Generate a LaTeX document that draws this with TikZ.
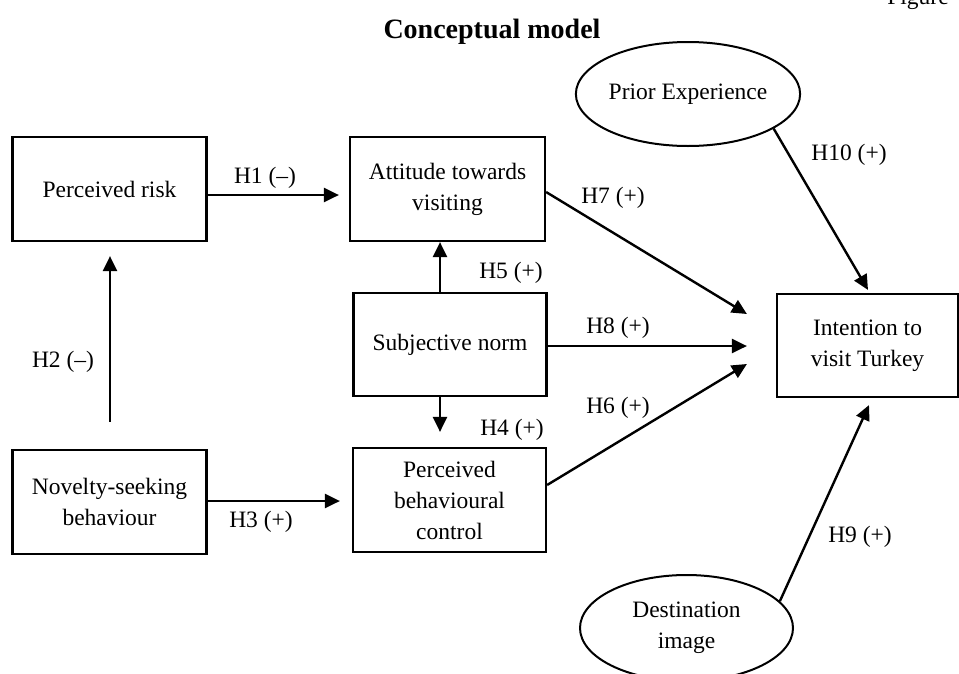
\documentclass[tikz,border=0pt]{standalone}
\usepackage{fontspec}
\setmainfont{Liberation Serif}
\usetikzlibrary{arrows.meta,calc,shapes.geometric}
\tikzset{
  box/.style={draw, line width=2.2pt, minimum width=194pt, minimum height=104pt, align=center, inner sep=2pt},
  oval/.style={draw, ellipse, line width=2pt, align=center, inner sep=0pt},
  conn/.style={line width=2.4pt, -{Triangle[length=15pt,width=14pt]}},
  lbl/.style={inner sep=0pt}
}
\begin{document}
\begin{tikzpicture}[x=1pt,y=-1pt,font=\fontsize{23.5}{31}\selectfont]
\useasboundingbox (0,0) rectangle (959,673);
% title
\node[lbl, font=\fontsize{28}{32}\selectfont\bfseries] (title) at (492,32) {Conceptual model};
\node[lbl, anchor=base] (fig) at (918,4) {Figure};
% nodes
\node[box] (pr) at (109.5,189) {Perceived risk};
\node[box, minimum width=195pt] (att) at (447.5,189) {Attitude towards\\visiting};
\node[box, minimum width=193pt, minimum height=103pt] (sn) at (450,344.5) {Subjective norm};
\node[box, minimum width=193pt] (pbc) at (449.5,500) {Perceived\\behavioural\\control};
\node[box] (nov) at (109.5,502) {Novelty-seeking\\behaviour};
\node[box, minimum width=181pt, minimum height=103pt] (int) at (867.5,345.5) {Intention to\\visit Turkey};
\node[oval, minimum width=212pt, minimum height=104pt] (pe) at (688,94) {Prior Experience};
\node[oval, minimum width=213pt, minimum height=106pt] (di) at (686.5,628) {Destination\\image};
% connectors
\draw[conn] ($(pr.east)+(0,6)$) -- ($(att.west)+(-10,6)$);
\draw[conn] ($(nov.north)+(0.5,-27)$) -- ($(pr.south)+(0.5,14)$);
\draw[conn] ($(nov.east)+(0,-1)$) -- ($(pbc.west)+(-12,1)$);
\coordinate (h5s) at ($(sn.north)+(-10,0)$);
\draw[conn] (h5s) -- (h5s |- att.south);
\coordinate (h4s) at ($(sn.south)+(-10,0)$);
\coordinate (h4t) at (h4s |- pbc.north);
\draw[conn] (h4s) -- ($(h4t)+(0,-15)$);
\draw[conn] ($(att.east)+(0,3)$) -- ($(int.west)+(-29,-31.5)$);
\draw[conn] ($(sn.east)+(0,1.5)$) -- ($(int.west)+(-29,0.5)$);
\draw[conn] ($(pbc.east)+(0,-15)$) -- ($(int.west)+(-29,18.5)$);
\draw[conn] (pe.-22) -- ($(int.north)+(0.5,-3)$);
\draw[conn] (di.16) -- ($(int.south)+(1.5,7)$);
% labels
\node[lbl] (l1) at (265,178) {H1 (–)};
\node[lbl] (l2) at (63,362) {H2 (–)};
\node[lbl] (l3) at (261,522) {H3 (+)};
\node[lbl] (l5) at (511,273) {H5 (+)};
\node[lbl] (l4) at (512,430) {H4 (+)};
\node[lbl] (l7) at (613,198) {H7 (+)};
\node[lbl] (l8) at (618,328) {H8 (+)};
\node[lbl] (l6) at (618,408) {H6 (+)};
\node[lbl] (l10) at (849,155) {H10 (+)};
\node[lbl] (l9) at (860,537) {H9 (+)};
\end{tikzpicture}
\end{document}
